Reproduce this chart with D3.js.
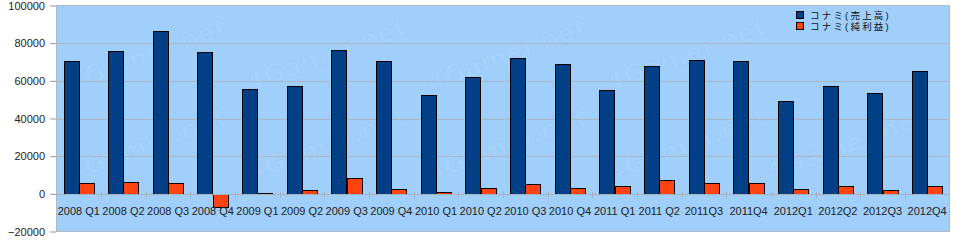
<!DOCTYPE html>
<html>
<head>
<meta charset="utf-8">
<script src="https://cdn.jsdelivr.net/npm/d3@7"></script>
<style>
  html, body { margin: 0; padding: 0; background: #ffffff; }
  svg { display: block; }
</style>
</head>
<body>
<svg id="chart" width="955" height="244"></svg>
<script>
const categories = ["2008 Q1","2008 Q2","2008 Q3","2008 Q4","2009 Q1","2009 Q2","2009 Q3","2009 Q4",
  "2010 Q1","2010 Q2","2010 Q3","2010 Q4","2011 Q1","2011 Q2","2011Q3","2011Q4",
  "2012Q1","2012Q2","2012Q3","2012Q4"];
const sales = [70700, 76000, 86600, 75500, 55900, 57500, 76500, 70700,
  52700, 62300, 72300, 69100, 54900, 68100, 71300, 70700,
  49200, 57500, 53300, 65400];
const netIncome = [5700, 6200, 5700, -6900, 400, 1900, 8300, 2500,
  900, 3000, 5300, 3000, 4100, 7200, 5700, 5700,
  2500, 4100, 1900, 4100];
const seriesNames = ["コナミ(売上高)", "コナミ(純利益)"];
const seriesColors = ["#033f86", "#ff4412"];
const yTicks = [-20000, 0, 20000, 40000, 60000, 80000, 100000];

const svg = d3.select("#chart");
const plot = { left: 56.5, right: 949.5, top: 5.5, bottom: 231.5 };

const y = d3.scaleLinear().domain([-20000, 100000]).range([plot.bottom, plot.top]);
const x = d3.scaleBand().domain(categories).range([plot.left, plot.right]).paddingInner(0).paddingOuter(0);
const barW = x.bandwidth() * 0.343;

// background
svg.append("rect")
  .attr("x", plot.left).attr("y", plot.top)
  .attr("width", plot.right - plot.left).attr("height", plot.bottom - plot.top)
  .attr("fill", "#a0cffc");

// faint watermark, kept fully inside the plot
const wm = svg.append("g");
const wmSpots = [[70, 92], [250, 92], [430, 92], [610, 92], [70, 182], [250, 182], [430, 182], [610, 182], [770, 182]];
wmSpots.forEach(([cx, cy]) => {
  wm.append("text")
    .attr("x", cx).attr("y", cy)
    .attr("transform", `rotate(-20, ${cx}, ${cy})`)
    .attr("font-family", "DejaVu Sans, sans-serif")
    .attr("font-size", 26).attr("font-weight", "bold")
    .attr("fill", "#ffffff").attr("fill-opacity", 0.08)
    .attr("stroke", "#8fbfef").attr("stroke-opacity", 0.25).attr("stroke-width", 1)
    .text("4Gamer.net");
});

// gridlines
svg.append("g").selectAll("line").data(yTicks.filter(d => d > -20000 && d < 100000 && d !== 0))
  .join("line")
  .attr("x1", plot.left).attr("x2", plot.right)
  .attr("y1", d => Math.round(y(d)) + 0.5).attr("y2", d => Math.round(y(d)) + 0.5)
  .attr("stroke", "#a9b5c2").attr("stroke-width", 1);

// plot border
svg.append("rect")
  .attr("x", plot.left).attr("y", plot.top)
  .attr("width", plot.right - plot.left).attr("height", plot.bottom - plot.top)
  .attr("fill", "none").attr("stroke", "#b0b8c0").attr("stroke-width", 1);

// bars
const gBars = svg.append("g");
categories.forEach((cat, i) => {
  const x0 = x(cat) + x.bandwidth() / 2 - barW;
  [sales[i], netIncome[i]].forEach((v, s) => {
    const yTop = Math.round(y(Math.max(0, v)));
    const yBot = Math.round(y(Math.min(0, v)));
    gBars.append("rect")
      .attr("x", Math.round(x0 + s * barW) + 0.5)
      .attr("y", yTop + 0.5)
      .attr("width", Math.round(barW))
      .attr("height", Math.max(0.5, yBot - yTop))
      .attr("fill", seriesColors[s])
      .attr("stroke", "#000000").attr("stroke-width", 1);
  });
});

// zero line
const y0 = Math.round(y(0)) + 0.5;
svg.append("line").attr("x1", plot.left).attr("x2", plot.right)
  .attr("y1", y0).attr("y2", y0).attr("stroke", "#a9b0b8").attr("stroke-width", 1);
svg.append("g").selectAll("line").data(categories.slice(1))
  .join("line")
  .attr("x1", d => Math.round(x(d)) + 0.5).attr("x2", d => Math.round(x(d)) + 0.5)
  .attr("y1", y0 - 3).attr("y2", y0 + 3)
  .attr("stroke", "#a9b0b8").attr("stroke-width", 1);

// y axis
const yAxis = d3.axisLeft(y).tickValues(yTicks).tickSize(6).tickPadding(5).tickFormat(d3.format("d"));
const gy = svg.append("g").attr("transform", `translate(${plot.left - 0.5},0)`).call(yAxis);
gy.select(".domain").remove();
gy.selectAll(".tick line").attr("stroke", "#999999");
gy.selectAll(".tick text")
  .attr("font-family", "Liberation Sans, Arial, sans-serif")
  .attr("font-size", 11).attr("fill", "#222222");

// x labels
svg.append("g").selectAll("text").data(categories).join("text")
  .attr("x", d => x(d) + x.bandwidth() / 2)
  .attr("y", 214.5)
  .attr("text-anchor", "middle")
  .attr("font-family", "Liberation Sans, Arial, sans-serif")
  .attr("font-size", 11).attr("fill", "#222222")
  .text(d => d);

// legend
const lg = svg.append("g").attr("transform", "translate(796,11)");
seriesNames.forEach((name, i) => {
  lg.append("rect").attr("x", 0.5).attr("y", i * 11 + 0.5).attr("width", 7).attr("height", 7)
    .attr("fill", seriesColors[i]).attr("stroke", "#000").attr("stroke-width", 1);
  lg.append("text").attr("x", 14).attr("y", i * 11 + 8)
    .attr("font-family", "Liberation Sans, Noto Sans CJK JP, sans-serif")
    .attr("font-size", 9.5).attr("letter-spacing", 2.2).attr("fill", "#111")
    .text(name);
});
</script>
</body>
</html>
